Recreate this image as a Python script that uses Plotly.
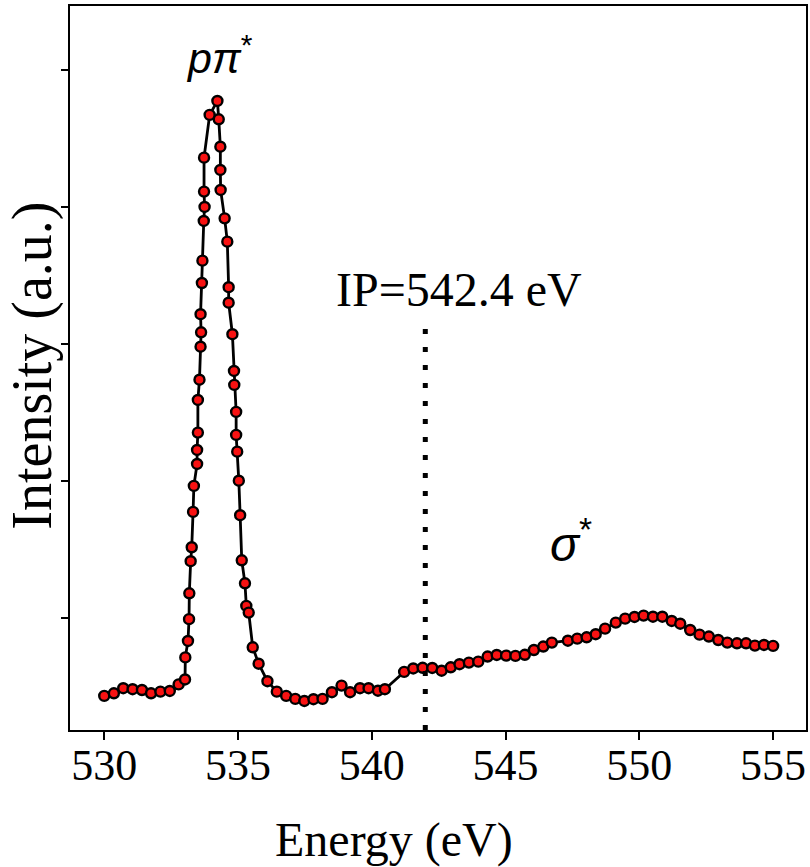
import plotly.graph_objects as go

energy = [530.00, 530.36, 530.71, 531.06, 531.41, 531.75, 532.10, 532.45, 532.78, 533.02,
          533.03, 533.13, 533.17, 533.18, 533.23, 533.27, 533.32, 533.35, 533.47, 533.47,
          533.50, 533.50, 533.56, 533.60, 533.62, 533.60, 533.65, 533.67, 533.72, 533.75,
          533.73, 533.73, 533.94, 534.23, 534.28, 534.34, 534.34, 534.35, 534.50, 534.60,
          534.65, 534.65, 534.79, 534.85, 534.86, 534.93, 534.93, 534.97, 535.03, 535.08,
          535.14, 535.26, 535.31, 535.40, 535.55, 535.77, 536.10, 536.45, 536.80, 537.14,
          537.48, 537.82, 538.16, 538.51, 538.87, 539.19, 539.56, 539.88, 540.23, 540.49,
          541.21, 541.55, 541.90, 542.26, 542.61, 542.95, 543.28, 543.63, 543.98, 544.33,
          544.67, 545.02, 545.37, 545.72, 546.06, 546.41, 546.73, 547.33, 547.68, 548.03,
          548.37, 548.72, 549.12, 549.47, 549.82, 550.16, 550.51, 550.86, 551.21, 551.53,
          551.90, 552.25, 552.60, 552.95, 553.29, 553.65, 553.99, 554.32, 554.66, 555.00]

intensity = [0.431, 0.450, 0.487, 0.480, 0.474, 0.450, 0.462, 0.467, 0.515, 0.551,
             0.712, 0.832, 0.991, 1.180, 1.414, 1.516, 1.774, 1.964, 2.124, 2.226,
             2.353, 2.591, 2.739, 2.980, 3.085, 3.217, 3.445, 3.608, 3.898, 4.000,
             4.112, 4.360, 4.672, 4.774, 4.640, 4.440, 4.270, 4.124, 3.917, 3.747,
             3.414, 3.301, 3.071, 2.803, 2.701, 2.504, 2.336, 2.214, 2.002, 1.750,
             1.421, 1.253, 1.088, 1.039, 0.786, 0.666, 0.538, 0.462, 0.431, 0.409,
             0.394, 0.407, 0.409, 0.458, 0.506, 0.458, 0.487, 0.487, 0.469, 0.480,
             0.606, 0.631, 0.636, 0.635, 0.615, 0.640, 0.662, 0.674, 0.681, 0.718,
             0.730, 0.725, 0.723, 0.731, 0.766, 0.791, 0.820, 0.834, 0.849, 0.859,
             0.881, 0.922, 0.966, 0.995, 1.007, 1.017, 1.009, 1.009, 0.978, 0.958,
             0.912, 0.878, 0.864, 0.839, 0.820, 0.815, 0.815, 0.798, 0.803, 0.796]

x_ticks = [530, 535, 540, 545, 550, 555]
y_ticks = [1, 2, 3, 4, 5]
ip_energy = 542.0
ip_label = "IP=542.4 eV"
ip_line_top = 3.14

serif = "Liberation Serif"
sans = "Liberation Sans"

fig = go.Figure()
fig.add_trace(go.Scatter(
    x=energy, y=intensity, mode="lines+markers",
    line=dict(color="black", width=2.8),
    marker=dict(size=10, color="#f81212", line=dict(color="black", width=2.4)),
    showlegend=False, hoverinfo="skip",
))

fig.add_trace(go.Scatter(
    x=[ip_energy, ip_energy], y=[0.182, ip_line_top], mode="lines",
    line=dict(color="black", width=5, dash="5px,13px"),
    showlegend=False, hoverinfo="skip",
))

fig.update_layout(
    width=810, height=867,
    margin=dict(l=70, r=2, t=6, b=137),
    paper_bgcolor="white", plot_bgcolor="white",
    xaxis=dict(range=[528.72, 556.23], tickvals=x_ticks, ticks="outside",
               ticklen=8, tickwidth=2, tickcolor="black", ticklabelstandoff=-13,
               showline=True, linecolor="black", linewidth=2, mirror=True,
               showgrid=False, zeroline=False,
               tickfont=dict(family=serif, size=44, color="black")),
    yaxis=dict(range=[0.182, 5.467], tickvals=y_ticks, ticks="outside",
               ticklen=7, tickwidth=2, tickcolor="black", showticklabels=False,
               showline=True, linecolor="black", linewidth=2, mirror=True,
               showgrid=False, zeroline=False),
    annotations=[
        dict(text="Energy (eV)", xref="paper", yref="paper", x=0.440, y=-0.152,
             showarrow=False, font=dict(family=serif, size=48, color="black"),
             xanchor="center", yanchor="middle"),
        dict(text="Intensity (a.u.)", xref="paper", yref="paper", x=-0.0505, y=0.503,
             textangle=-90, showarrow=False,
             font=dict(family=serif, size=56, color="black"),
             xanchor="center", yanchor="middle"),
        dict(text="<i>pπ</i><sup>*</sup>", x=534.31, y=5.11, xref="x", yref="y",
             showarrow=False, font=dict(family=sans, size=43, color="black")),
        dict(text=ip_label, x=543.26, y=3.394, xref="x", yref="y",
             showarrow=False, font=dict(family=serif, size=48, color="black")),
        dict(text="<i>σ</i><sup>*</sup>", x=547.45, y=1.56, xref="x", yref="y",
             showarrow=False, font=dict(family=sans, size=48, color="black")),
    ],
)

fig.write_html("out.html", config={"displayModeBar": False},
               post_script="document.body.style.margin='0px';")
